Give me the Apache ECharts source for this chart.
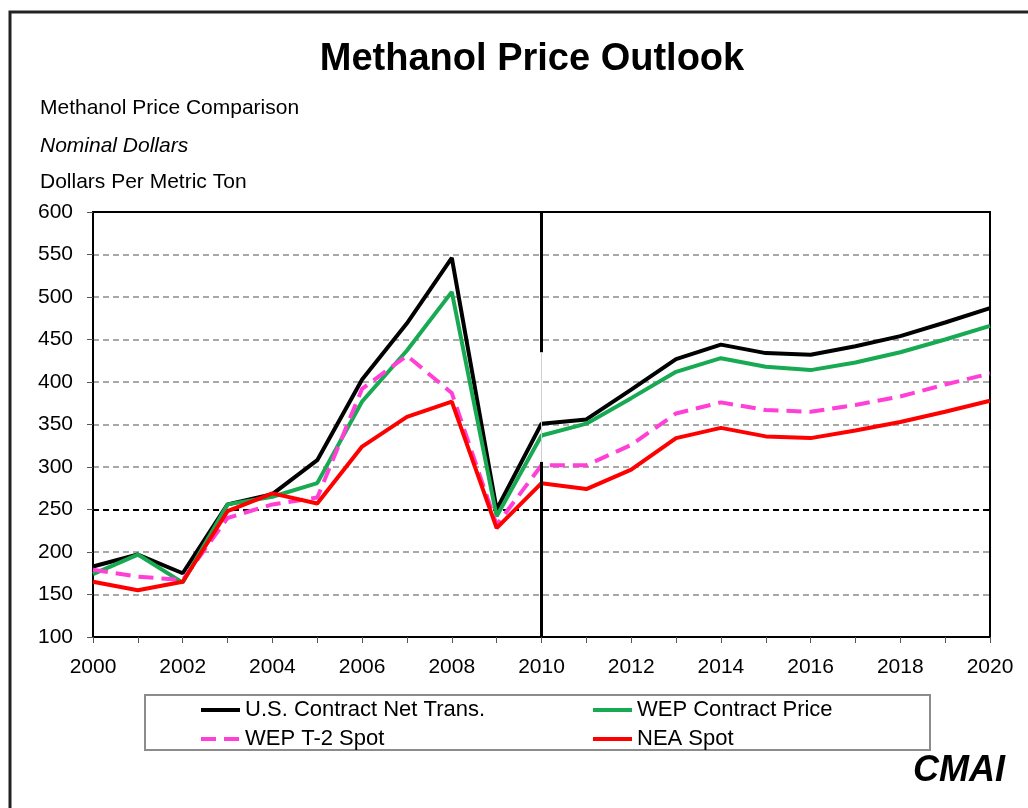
<!DOCTYPE html>
<html>
<head>
<meta charset="utf-8">
<title>Methanol Price Outlook</title>
<script src="https://cdn.jsdelivr.net/npm/echarts@6/dist/echarts.min.js"></script>
<style>
  html, body { margin: 0; padding: 0; background: #fff; }
  #chart { width: 1028px; height: 808px; }
</style>
</head>
<body>
<div id="chart"></div>
<script>
// 横轴年份
var years = ['2000', '2001', '2002', '2003', '2004', '2005', '2006', '2007', '2008', '2009', '2010',
  '2011', '2012', '2013', '2014', '2015', '2016', '2017', '2018', '2019', '2020'];

// 四条价格线 ($/t)
var usContract = [183, 197, 175, 256, 268, 308, 403, 469, 546, 250, 351, 356, 391, 427, 444, 434, 432, 442, 454, 470, 487];
var wepContract = [174, 197, 164, 256, 265, 281, 377, 437, 506, 242, 337, 351, 381, 412, 428, 418, 414, 423, 435, 450, 466];
var wepT2Spot = [179, 171, 167, 240, 256, 264, 392, 431, 387, 232, 302, 302, 326, 363, 376, 367, 365, 373, 383, 397, 410];
var neaSpot = [165, 155, 165, 248, 269, 257, 324, 359, 377, 228, 281, 274, 297, 334, 346, 336, 334, 343, 353, 365, 378];

var seriesNames = ['U.S. Contract Net Trans.', 'WEP Contract Price', 'WEP T-2 Spot', 'NEA Spot'];

// 纵轴范围
var yMin = 100;
var yMax = 600;
var yStep = 50;

// 2010 预测分界线（中间有一段是断开的）
var forecastYear = '2010';
var dividerGap = [435, 306];

var FONT = 'Liberation Sans, Arial, sans-serif';

var chart = echarts.init(document.getElementById('chart'));

// 分隔线颜色：250 那条是黑色（不画 100 和 600 两条）
var splitColors = [];
for (var v = yMin + yStep; v < yMax; v += yStep) {
  splitColors.push(v === 250 ? '#000' : '#a8a8a8');
}

function lineSeries(name, data, color, type) {
  return {
    name: name,
    type: 'line',
    data: data,
    symbol: 'none',
    smooth: false,
    lineStyle: { color: color, width: 4, type: type || 'solid', cap: 'butt' },
    itemStyle: { color: color },
    emphasis: { disabled: true }
  };
}

var series = [
  lineSeries(seriesNames[0], usContract, '#000000'),
  lineSeries(seriesNames[1], wepContract, '#17aa52'),
  lineSeries(seriesNames[2], wepT2Spot, '#ff3fd6', [15, 8]),
  lineSeries(seriesNames[3], neaSpot, '#ff0000')
];

// 分界线挂在第一条线上
series[0].markLine = {
  silent: true,
  symbol: 'none',
  label: { show: false },
  animation: false,
  lineStyle: { color: '#000', width: 3, type: 'solid' },
  data: [
    [{ coord: [forecastYear, yMax] }, { coord: [forecastYear, dividerGap[0]] }],
    [{ coord: [forecastYear, dividerGap[0]], lineStyle: { color: '#cfcfcf', width: 1 } },
     { coord: [forecastYear, dividerGap[1]] }],
    [{ coord: [forecastYear, dividerGap[1]] }, { coord: [forecastYear, yMin] }]
  ]
};

var legendCommon = {
  orient: 'vertical',
  top: 699,
  padding: 0,
  itemGap: 7,
  itemWidth: 39,
  itemHeight: 14,
  selectedMode: false,
  // 图例只要线，不要圆点
  itemStyle: { opacity: 0 },
  lineStyle: { width: 4 },
  textStyle: { fontFamily: FONT, fontSize: 22, lineHeight: 22, color: '#000' }
};

var option = {
  animation: false,
  backgroundColor: '#fff',
  title: {
    text: 'Methanol Price Outlook',
    left: 527,
    textAlign: 'center',
    top: 36,
    textStyle: { fontFamily: FONT, fontSize: 38, fontWeight: 'bold', color: '#000' }
  },
  legend: [
    Object.assign({ left: 199, data: [seriesNames[0], seriesNames[2]] }, legendCommon),
    Object.assign({ left: 591, data: [seriesNames[1], seriesNames[3]] }, legendCommon)
  ],
  grid: {
    left: 93,
    right: 38,
    top: 212,
    bottom: 171,
    show: true,
    borderColor: '#000',
    borderWidth: 2
  },
  xAxis: {
    type: 'category',
    data: years,
    boundaryGap: false,
    axisLine: { lineStyle: { color: '#000', width: 2 } },
    axisTick: { show: true, interval: 0, length: 6, lineStyle: { color: '#555', width: 1 } },
    axisLabel: { interval: 1, margin: 20, fontFamily: FONT, fontSize: 21, color: '#000' },
    splitLine: { show: false }
  },
  yAxis: {
    type: 'value',
    min: yMin,
    max: yMax,
    interval: yStep,
    axisLine: { show: true, lineStyle: { color: '#000', width: 2 } },
    axisTick: { show: true, length: 6, lineStyle: { color: '#555', width: 1 } },
    axisLabel: { margin: 20, fontFamily: FONT, fontSize: 21, color: '#000' },
    splitLine: {
      show: true,
      showMinLine: false,
      showMaxLine: false,
      lineStyle: { color: splitColors, width: 2, type: [6, 4] }
    }
  },
  graphic: [
    // 外框（左、上）
    {
      type: 'polyline',
      silent: true,
      shape: { points: [[10, 808], [10, 12], [1028, 12]] },
      style: { stroke: '#222', lineWidth: 3, fill: null }
    },
    // 图例框
    {
      type: 'rect',
      silent: true,
      z: -1,
      shape: { x: 145, y: 695, width: 785, height: 55 },
      style: { fill: '#fff', stroke: '#8c8c8c', lineWidth: 2 }
    },
    {
      type: 'text', left: 40, top: 98, silent: true,
      style: { text: 'Methanol Price Comparison', font: '21px ' + FONT, fill: '#000' }
    },
    {
      type: 'text', left: 40, top: 136, silent: true,
      style: { text: 'Nominal Dollars', font: 'italic 21px ' + FONT, fill: '#000' }
    },
    {
      type: 'text', left: 40, top: 172, silent: true,
      style: { text: 'Dollars Per Metric Ton', font: '21px ' + FONT, fill: '#000' }
    },
    // CMAI 标志
    {
      type: 'text', left: 913, top: 753, silent: true,
      style: { text: 'CMAI', font: 'italic bold 36px ' + FONT, fill: '#000' }
    }
  ],
  series: series
};

chart.setOption(option);
</script>
</body>
</html>
